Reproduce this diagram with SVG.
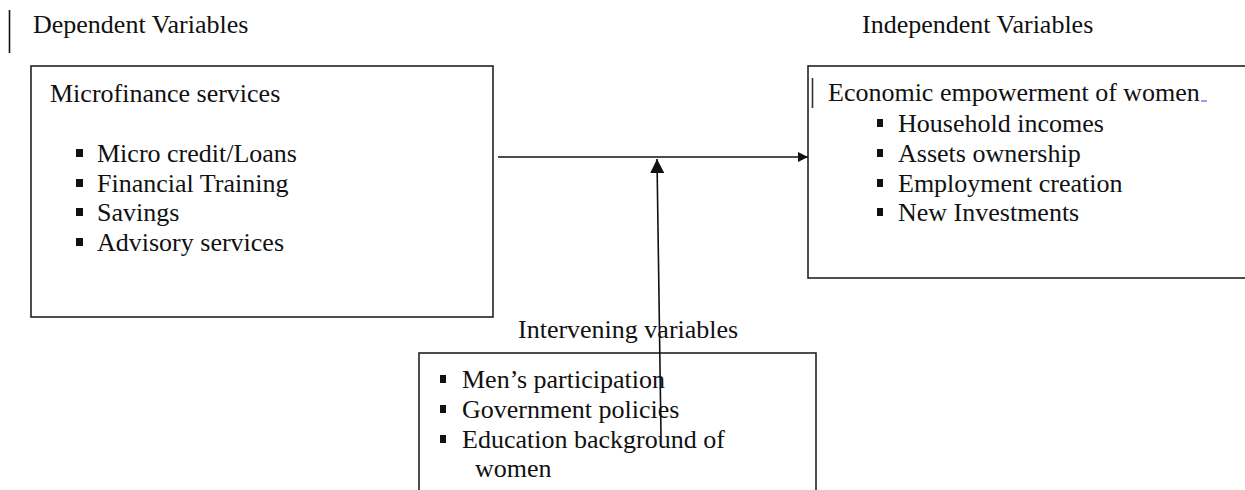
<svg xmlns="http://www.w3.org/2000/svg" width="1245" height="490" viewBox="0 0 1245 490">
<style>
text{font-family:"Liberation Serif","Times New Roman",serif;font-size:26px;fill:#111}
.box{fill:#fff;stroke:#222;stroke-width:1.6}
.bul{fill:#111}
.conn{stroke:#111;stroke-width:1.6;fill:none}
</style>
<defs>
<marker id="ah" viewBox="0 0 10 10" refX="10" refY="5" markerWidth="10" markerHeight="10" markerUnits="userSpaceOnUse" orient="auto">
<path d="M0,0 L10,5 L0,10 z" fill="#111"/>
</marker>
<marker id="ah2" viewBox="0 0 10 10" refX="10" refY="5" markerWidth="14" markerHeight="14" markerUnits="userSpaceOnUse" orient="auto">
<path d="M0,0 L10,5 L0,10 z" fill="#111"/>
</marker>
</defs>
<rect width="1245" height="490" fill="#fff"/>
<g id="headers">
<line x1="9.5" y1="10" x2="9.5" y2="53" stroke="#111" stroke-width="1.6"/>
<text x="33" y="33">Dependent Variables</text>
<text x="862" y="33">Independent Variables</text>
</g>
<g id="microfinance">
<rect class="box" x="31" y="66" width="462" height="251"/>
<text x="50" y="102">Microfinance services</text>
<rect class="bul" x="76" y="149" width="7" height="8"/>
<text x="97" y="162">Micro credit/Loans</text>
<rect class="bul" x="76" y="179" width="7" height="8"/>
<text x="97" y="192">Financial Training</text>
<rect class="bul" x="76" y="208" width="7" height="8"/>
<text x="97" y="221">Savings</text>
<rect class="bul" x="76" y="238" width="7" height="8"/>
<text x="97" y="251">Advisory services</text>
</g>
<g id="empowerment">
<rect class="box" x="808" y="66" width="460" height="212"/>
<line x1="812.5" y1="78" x2="812.5" y2="108" stroke="#333" stroke-width="1.6"/>
<text x="828" y="101">Economic empowerment of women</text>
<line x1="1201" y1="101" x2="1207" y2="101" stroke="#55f" stroke-width="1.2"/>
<rect class="bul" x="877" y="119" width="6" height="8"/>
<text x="898" y="132">Household incomes</text>
<rect class="bul" x="877" y="149" width="6" height="8"/>
<text x="898" y="162">Assets ownership</text>
<rect class="bul" x="877" y="179" width="6" height="8"/>
<text x="898" y="192">Employment creation</text>
<rect class="bul" x="877" y="208" width="6" height="8"/>
<text x="898" y="221">New Investments</text>
</g>
<g id="intervening">
<text x="518" y="338">Intervening variables</text>
<rect class="box" x="419" y="353" width="397" height="200"/>
<rect class="bul" x="440" y="375" width="6" height="8"/>
<text x="462" y="388">Men’s participation</text>
<rect class="bul" x="440" y="405" width="6" height="8"/>
<text x="462" y="418">Government policies</text>
<rect class="bul" x="440" y="435" width="6" height="8"/>
<text x="462" y="448">Education background of</text>
<text x="475" y="477">women</text>
</g>
<g id="connectors">
<line class="conn" x1="498" y1="157" x2="808" y2="157" marker-end="url(#ah)"/>
<line class="conn" x1="661" y1="436" x2="657" y2="159" marker-end="url(#ah2)"/>
</g>
</svg>
